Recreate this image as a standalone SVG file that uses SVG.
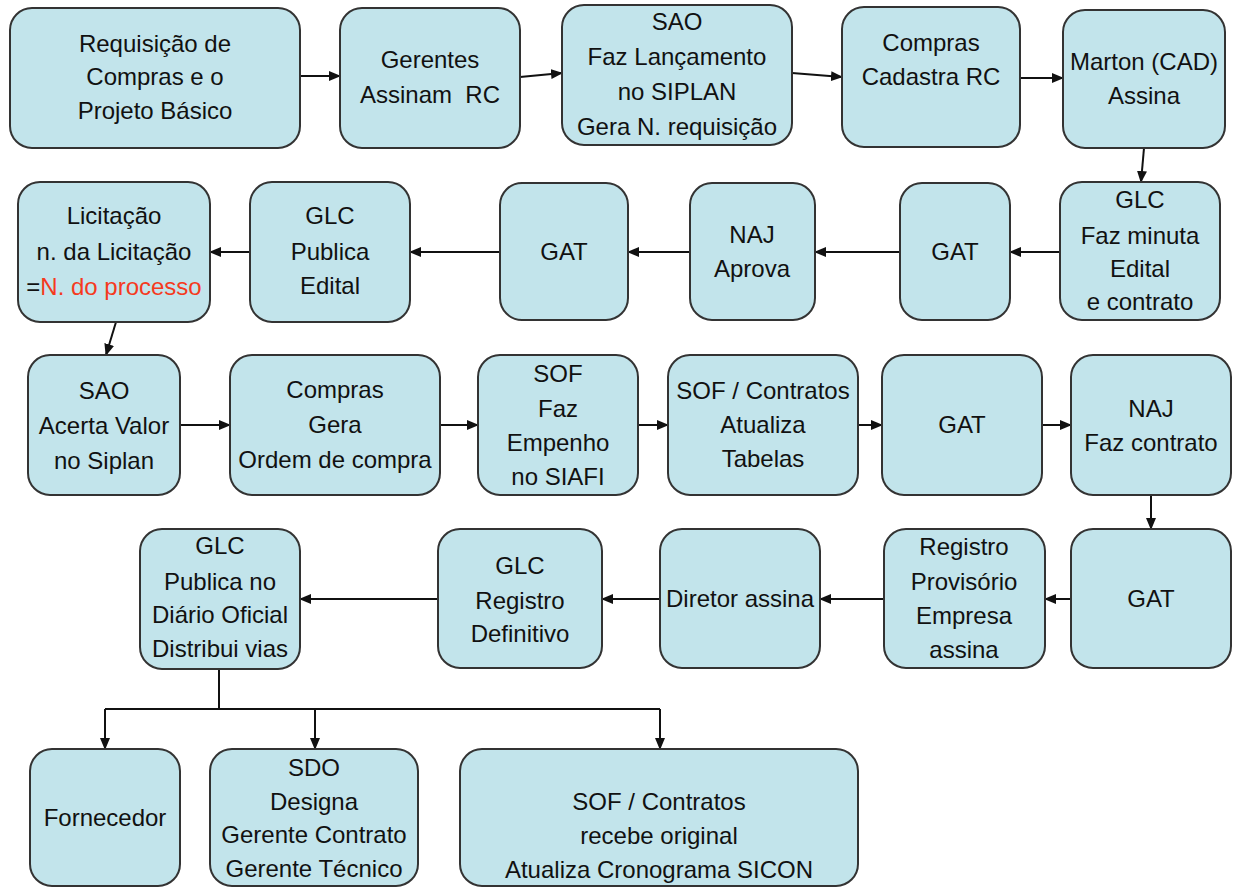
<svg xmlns="http://www.w3.org/2000/svg" width="1239" height="887" viewBox="0 0 1239 887">
<defs>
<style>
.box{fill:#c2e4eb;stroke:#333;stroke-width:2}
text{font-family:"Liberation Sans",Arial,sans-serif;font-size:24px;fill:#111;text-anchor:middle}
.red{fill:#f53a1e}
.c{fill:none;stroke:#111;stroke-width:2}
</style>
<marker id="a" markerWidth="12" markerHeight="10" refX="11" refY="5" orient="auto" markerUnits="userSpaceOnUse">
<path d="M0,0 L12,5 L0,10 Z" fill="#111"/>
</marker>
</defs>
<rect width="1239" height="887" fill="#fff"/>
<g id="connectors">
<path class="c" marker-end="url(#a)" d="M300,76 L340,76"/>
<path class="c" marker-end="url(#a)" d="M520,77 L562,73"/>
<path class="c" marker-end="url(#a)" d="M792,73 L842,77"/>
<path class="c" marker-end="url(#a)" d="M1020,78 L1063,78"/>
<path class="c" marker-end="url(#a)" d="M1144,148 L1141,182"/>
<path class="c" marker-end="url(#a)" d="M1060,252 L1010,252"/>
<path class="c" marker-end="url(#a)" d="M900,252 L815,252"/>
<path class="c" marker-end="url(#a)" d="M690,252 L628,252"/>
<path class="c" marker-end="url(#a)" d="M500,252 L410,252"/>
<path class="c" marker-end="url(#a)" d="M250,252 L210,252"/>
<path class="c" marker-end="url(#a)" d="M116,322 L106,355"/>
<path class="c" marker-end="url(#a)" d="M180,425 L230,425"/>
<path class="c" marker-end="url(#a)" d="M440,425 L478,425"/>
<path class="c" marker-end="url(#a)" d="M638,425 L668,425"/>
<path class="c" marker-end="url(#a)" d="M858,425 L882,425"/>
<path class="c" marker-end="url(#a)" d="M1042,425 L1071,425"/>
<path class="c" marker-end="url(#a)" d="M1151,495 L1151,529"/>
<path class="c" marker-end="url(#a)" d="M1071,599 L1045,599"/>
<path class="c" marker-end="url(#a)" d="M884,599 L820,599"/>
<path class="c" marker-end="url(#a)" d="M660,599 L602,599"/>
<path class="c" marker-end="url(#a)" d="M438,599 L300,599"/>
<path class="c" d="M219,669 L219,709 M105,709 L660,709"/>
<path class="c" marker-end="url(#a)" d="M105,709 L105,749"/>
<path class="c" marker-end="url(#a)" d="M315,709 L315,749"/>
<path class="c" marker-end="url(#a)" d="M660,709 L660,749"/>
</g>
<g id="n1"><rect class="box" x="10" y="8" width="290" height="140" rx="22"/>
<text x="155" y="52">Requisição de</text><text x="155" y="85">Compras e o</text><text x="155" y="119">Projeto Básico</text></g>
<g id="n2"><rect class="box" x="340" y="8" width="180" height="140" rx="22"/>
<text x="430" y="68">Gerentes</text><text x="430" y="103" xml:space="preserve">Assinam  RC</text></g>
<g id="n3"><rect class="box" x="562" y="5" width="230" height="140" rx="22"/>
<text x="677" y="30">SAO</text><text x="677" y="65">Faz Lançamento</text><text x="677" y="100">no SIPLAN</text><text x="677" y="135">Gera N. requisição</text></g>
<g id="n4"><rect class="box" x="842" y="7" width="178" height="140" rx="22"/>
<text x="931" y="51">Compras</text><text x="931" y="85">Cadastra RC</text></g>
<g id="n5"><rect class="box" x="1063" y="10" width="162" height="138" rx="22"/>
<text x="1144" y="70">Marton (CAD)</text><text x="1144" y="104">Assina</text></g>
<g id="n6"><rect class="box" x="1060" y="182" width="160" height="138" rx="22"/>
<text x="1140" y="208">GLC</text><text x="1140" y="244">Faz minuta</text><text x="1140" y="277">Edital</text><text x="1140" y="310">e contrato</text></g>
<g id="n7"><rect class="box" x="900" y="183" width="110" height="137" rx="22"/>
<text x="955" y="260">GAT</text></g>
<g id="n8"><rect class="box" x="690" y="183" width="125" height="137" rx="22"/>
<text x="752" y="243">NAJ</text><text x="752" y="277">Aprova</text></g>
<g id="n9"><rect class="box" x="500" y="183" width="128" height="137" rx="22"/>
<text x="564" y="260">GAT</text></g>
<g id="n10"><rect class="box" x="250" y="182" width="160" height="140" rx="22"/>
<text x="330" y="224">GLC</text><text x="330" y="260">Publica</text><text x="330" y="294">Edital</text></g>
<g id="n11"><rect class="box" x="18" y="182" width="192" height="140" rx="22"/>
<text x="114" y="224">Licitação</text><text x="114" y="260">n. da Licitação</text><text x="114" y="295">=<tspan class="red">N. do processo</tspan></text></g>
<g id="n12"><rect class="box" x="28" y="355" width="152" height="140" rx="22"/>
<text x="104" y="399">SAO</text><text x="104" y="434">Acerta Valor</text><text x="104" y="469">no Siplan</text></g>
<g id="n13"><rect class="box" x="230" y="355" width="210" height="140" rx="22"/>
<text x="335" y="398">Compras</text><text x="335" y="433">Gera</text><text x="335" y="468">Ordem de compra</text></g>
<g id="n14"><rect class="box" x="478" y="355" width="160" height="140" rx="22"/>
<text x="558" y="382">SOF</text><text x="558" y="417">Faz</text><text x="558" y="451">Empenho</text><text x="558" y="485">no SIAFI</text></g>
<g id="n15"><rect class="box" x="668" y="355" width="190" height="140" rx="22"/>
<text x="763" y="399">SOF / Contratos</text><text x="763" y="433">Atualiza</text><text x="763" y="467">Tabelas</text></g>
<g id="n16"><rect class="box" x="882" y="355" width="160" height="140" rx="22"/>
<text x="962" y="433">GAT</text></g>
<g id="n17"><rect class="box" x="1071" y="355" width="160" height="140" rx="22"/>
<text x="1151" y="417">NAJ</text><text x="1151" y="451">Faz contrato</text></g>
<g id="n18"><rect class="box" x="1071" y="529" width="160" height="139" rx="22"/>
<text x="1151" y="607">GAT</text></g>
<g id="n19"><rect class="box" x="884" y="529" width="161" height="139" rx="22"/>
<text x="964" y="555">Registro</text><text x="964" y="590">Provisório</text><text x="964" y="624">Empresa</text><text x="964" y="658">assina</text></g>
<g id="n20"><rect class="box" x="660" y="529" width="160" height="139" rx="22"/>
<text x="740" y="607">Diretor assina</text></g>
<g id="n21"><rect class="box" x="438" y="529" width="164" height="139" rx="22"/>
<text x="520" y="574">GLC</text><text x="520" y="609">Registro</text><text x="520" y="642">Definitivo</text></g>
<g id="n22"><rect class="box" x="140" y="529" width="160" height="140" rx="22"/>
<text x="220" y="554">GLC</text><text x="220" y="590">Publica no</text><text x="220" y="623">Diário Oficial</text><text x="220" y="657">Distribui vias</text></g>
<g id="n23"><rect class="box" x="30" y="749" width="150" height="137" rx="22"/>
<text x="105" y="826">Fornecedor</text></g>
<g id="n24"><rect class="box" x="210" y="749" width="208" height="137" rx="22"/>
<text x="314" y="776">SDO</text><text x="314" y="810">Designa</text><text x="314" y="843">Gerente Contrato</text><text x="314" y="877">Gerente Técnico</text></g>
<g id="n25"><rect class="box" x="460" y="749" width="398" height="137" rx="22"/>
<text x="659" y="810">SOF / Contratos</text><text x="659" y="844">recebe original</text><text x="659" y="878">Atualiza Cronograma SICON</text></g>
</svg>
